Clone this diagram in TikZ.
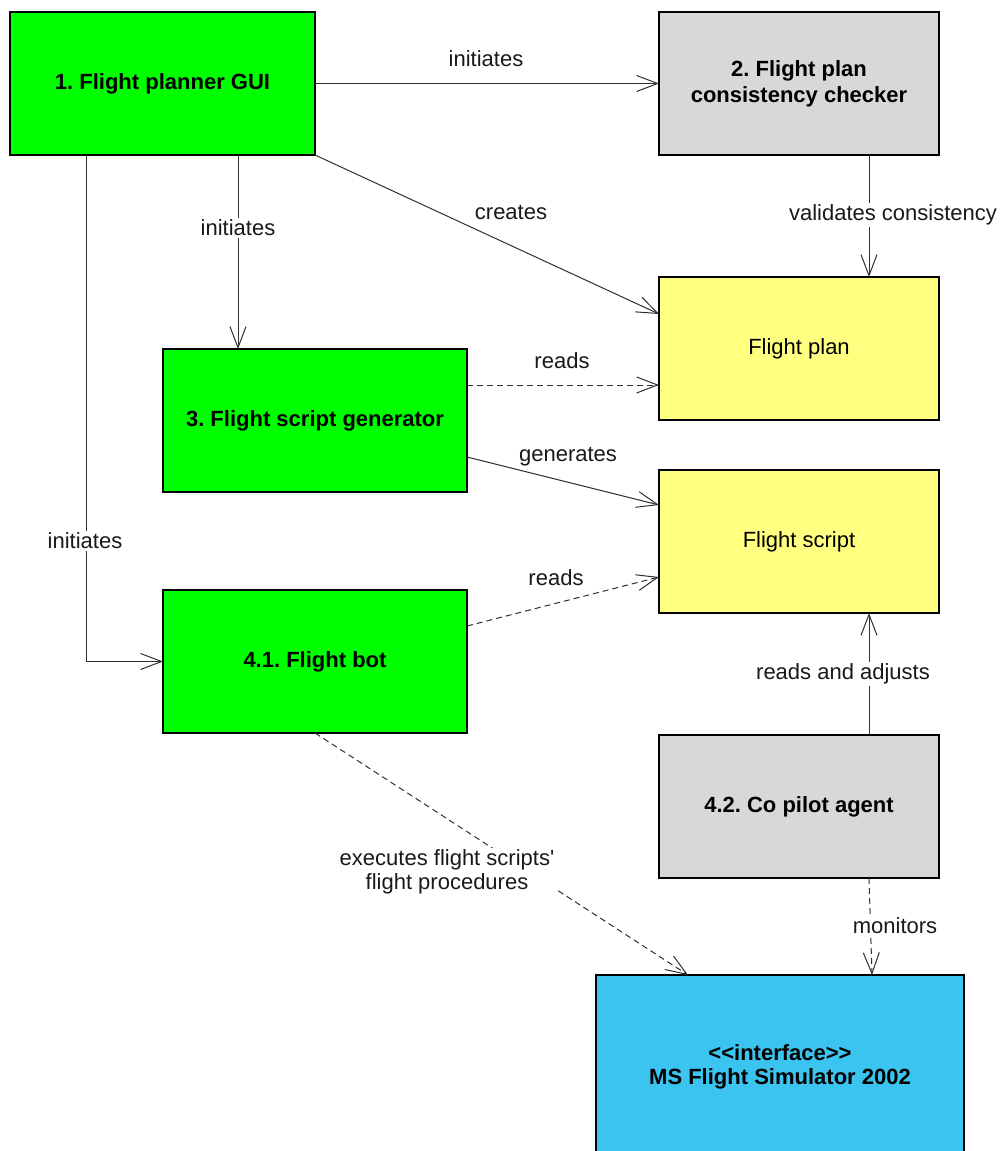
\documentclass[tikz,border=0pt]{standalone}
\usepackage{fontspec}
\setmainfont{Liberation Sans}[Ligatures=TeXOff]
\usetikzlibrary{arrows.meta,calc}
\definecolor{compgreen}{HTML}{00FF00}
\definecolor{compgray}{HTML}{D8D8D8}
\definecolor{artyellow}{HTML}{FFFF80}
\definecolor{ifaceblue}{HTML}{3BC4F0}
\definecolor{wire}{HTML}{303030}
\frenchspacing
\tikzset{
  box/.style={draw=black, line width=1.5pt, anchor=north west, outer sep=0pt,
    inner sep=0pt, align=center, font=\fontsize{22}{26}\selectfont},
  comp/.style={box, fill=compgreen, font=\fontsize{22}{26}\selectfont\bfseries},
  agent/.style={box, fill=compgray, font=\fontsize{22}{26}\selectfont\bfseries},
  artefact/.style={box, fill=artyellow},
  iface/.style={box, fill=ifaceblue},
  conn/.style={draw=wire, line width=1pt,
    -{Straight Barb[length=21pt,width=16pt,line width=1pt]}},
  dep/.style={conn, dash pattern=on 6pt off 4pt},
  lbl/.style={fill=white, inner sep=2pt, align=center,
    font=\fontsize{22}{24}\selectfont, text=black!90}
}
\begin{document}
\begin{tikzpicture}[x=1pt, y=-1pt]
\clip (0,0) rectangle (1005,1151);
\useasboundingbox (0,0) rectangle (1005,1151);

% components and artefacts
\node[comp, minimum width=305pt, minimum height=143pt] (gui) at (10,12) {1. Flight planner GUI};
\node[agent, minimum width=280pt, minimum height=143pt] (chk) at (659,12) {2. Flight plan\\consistency checker};
\node[artefact, minimum width=280pt, minimum height=143pt] (plan) at (659,277) {Flight plan};
\node[comp, minimum width=304pt, minimum height=143pt] (gen) at (163,349) {3. Flight script generator};
\node[artefact, minimum width=280pt, minimum height=143pt] (script) at (659,470) {Flight script};
\node[comp, minimum width=304pt, minimum height=143pt] (bot) at (163,590) {4.1. Flight bot};
\node[agent, minimum width=280pt, minimum height=143pt] (copilot) at (659,735) {4.2. Co pilot agent};
% the simulator box runs off the lower edge of the page
\node[iface, minimum width=368pt, minimum height=178pt] (sim) at (596,975) {};
\node[align=center, font=\fontsize{22}{24}\selectfont\bfseries] (simtxt) at (780,1067) {<<interface>>\\MS Flight Simulator 2002};

% connectors
\draw[conn] (gui.east) -- (chk.west);
\draw[conn] ($(gui.south west)+(228,0)$) -- ($(gen.north west)+(75,0)$);
\draw[conn] (gui.south east) -- ($(plan.north west)+(0,37)$);
\draw[conn] ($(gui.south west)+(76,0)$) |- (bot.west);
\draw[conn] ($(chk.south west)+(210,0)$) -- ($(plan.north west)+(210,0)$);
\draw[dep]  ($(gen.north east)+(0,36)$) -- ($(plan.north west)+(0,108)$);
\draw[conn] ($(gen.north east)+(0,108)$) -- ($(script.north west)+(0,35)$);
\draw[dep]  ($(bot.north east)+(0,36)$) -- ($(script.north west)+(0,107)$);
\draw[conn] ($(copilot.north west)+(210,0)$) -- ($(script.south west)+(210,0)$);
\draw[dep]  (bot.south) -- ($(sim.north west)+(92,0)$);
\draw[dep]  ($(copilot.south west)+(210,0)$) -- ($(sim.north west)+(276,0)$);

% connector labels
\node[lbl] (l1) at (486,59) {initiates};
\node[lbl] (l2) at (238,228) {initiates};
\node[lbl] (l3) at (511,212) {creates};
\node[lbl] (l4) at (85,541) {initiates};
\node[lbl] (l5) at (893,215) {validates consistency};
\node[lbl] (l6) at (562,361) {reads};
\node[lbl] (l7) at (568,457) {generates};
\node[lbl] (l8) at (556,578) {reads};
\node[lbl] (l9) at (843,674) {reads and adjusts};
\node[lbl] (l10) at (447,872) {executes flight scripts'\\flight procedures};
\node[lbl] (l11) at (895,926) {monitors};
\end{tikzpicture}
\end{document}
